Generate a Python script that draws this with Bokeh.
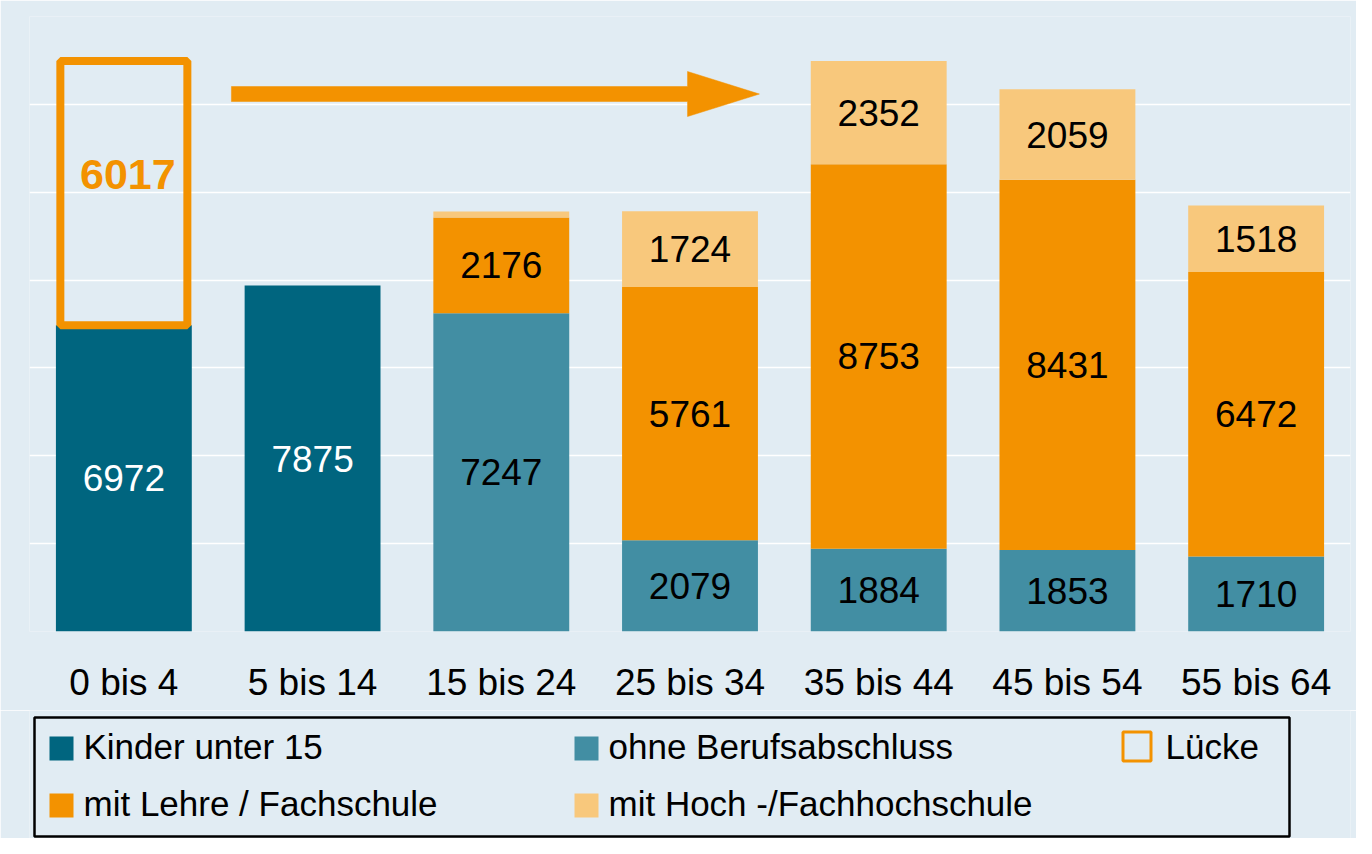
from bokeh.plotting import figure
from bokeh.models import ColumnDataSource, FactorRange, Range1d, FixedTicker
from bokeh.layouts import column
from bokeh.core.properties import value
from bokeh.embed import file_html
from bokeh.resources import INLINE

# ---------------- data ----------------
categories = ["0 bis 4", "5 bis 14", "15 bis 24", "25 bis 34", "35 bis 44", "45 bis 54", "55 bis 64"]
kinder = [6972, 7875, 0, 0, 0, 0, 0]
ohne = [0, 0, 7247, 2079, 1884, 1853, 1710]
lehre = [0, 0, 2176, 5761, 8753, 8431, 6472]
hoch = [0, 0, 140, 1724, 2352, 2059, 1518]
luecke = [6017, 0, 0, 0, 0, 0, 0]

series_names = ["Kinder unter 15", "ohne Berufsabschluss", "mit Lehre / Fachschule", "mit Hoch -/Fachhochschule"]
gap_name = "Lücke"
y_ticks = [0, 2000, 4000, 6000, 8000, 10000, 12000, 14000]

# ---------------- style ----------------
BG = "#e1ecf3"
C_KIND = "#00657f"
C_OHNE = "#428ea3"
C_LEHRE = "#f39200"
C_HOCH = "#f8c87c"
FONT = "Liberation Sans"
W = 1356

p = figure(x_range=FactorRange(*categories), y_range=Range1d(0, 14000),
           width=W, height=710, output_backend="svg", toolbar_location=None,
           y_axis_location=None,
           min_border_left=29, min_border_right=6, min_border_top=16, min_border_bottom=79)
p.background_fill_color = BG
p.border_fill_color = BG
p.outline_line_color = None
p.xgrid.grid_line_color = None
p.ygrid.ticker = FixedTicker(ticks=y_ticks)
p.ygrid.grid_line_color = "white"
p.ygrid.grid_line_width = 1.5

ax = p.xaxis[0]
ax.axis_line_color = None
ax.major_tick_line_color = None
ax.minor_tick_line_color = None
ax.major_tick_out = 0
ax.major_tick_in = 0
ax.major_label_standoff = 30
ax.major_label_text_font = FONT
ax.major_label_text_font_size = "37px"
ax.major_label_text_color = "black"

src = ColumnDataSource(dict(cat=categories, kinder=kinder, ohne=ohne, lehre=lehre, hoch=hoch))
p.vbar_stack(["kinder", "ohne", "lehre", "hoch"], x="cat", width=0.72,
             fill_color=[C_KIND, C_OHNE, C_LEHRE, C_HOCH], line_color=None, source=src)

# gap box
gx = [c for c, g in zip(categories, luecke) if g > 0]
gb = [k for k, g in zip(kinder, luecke) if g > 0]
gt = [k + g for k, g in zip(kinder, luecke) if g > 0]
p.vbar(x=gx, bottom=gb, top=gt, width=0.673, fill_color=None, line_color=C_LEHRE, line_width=8)

# value labels
lx, ly, lt, lc = [], [], [], []
for i, c in enumerate(categories):
    base = 0
    for vals, col in [(kinder, "white"), (ohne, "black"), (lehre, "black"), (hoch, "black")]:
        v = vals[i]
        if v >= 500:
            lx.append(c); ly.append(base + v / 2); lt.append(str(v)); lc.append(col)
        base += v
p.text(x=lx, y=ly, text=lt, text_color=lc, text_align="center", text_baseline="middle",
       text_font=value(FONT), text_font_size=value("37px"))

glx = [c for c, g in zip(categories, luecke) if g > 0]
gly = [k + g * 0.57 for k, g in zip(kinder, luecke) if g > 0]
glt = [str(g) for g in luecke if g > 0]
p.text(x=glx, y=gly, text=glt, x_offset=4, text_color=C_LEHRE, text_align="center",
       text_baseline="middle", text_font=value(FONT), text_font_size=value("43px"),
       text_font_style="bold")

# decorative arrow (category units / value units)
AX0, AX1, AX2 = 1.070, 3.487, 3.868
AY_S0, AY_S1 = 12065, 12406
AY_H0, AY_H1, AY_M = 11723, 12748, 12235
p.patch(x=[AX0, AX1, AX1, AX2, AX1, AX1, AX0],
        y=[AY_S1, AY_S1, AY_H1, AY_M, AY_H0, AY_S0, AY_S0],
        fill_color=C_LEHRE, line_color=C_LEHRE, line_width=0.5)

# ---------------- legend (separate panel, frame aligned with chart frame) ----------------
lg = figure(x_range=Range1d(29, 1350), y_range=Range1d(849, 721), width=W, height=128,
            output_backend="svg", toolbar_location=None,
            x_axis_location=None, y_axis_location=None,
            min_border_left=29, min_border_right=6, min_border_top=0, min_border_bottom=0)
lg.background_fill_color = BG
lg.border_fill_color = BG
lg.outline_line_color = None
lg.grid.visible = False

lg.quad(left=[34], right=[1289], top=[728], bottom=[847], fill_color=None,
        line_color="black", line_width=2.5)

sw_left = [49, 574, 49, 574]
sw_mid = [759, 759, 816, 816]
sw_col = [C_KIND, C_OHNE, C_LEHRE, C_HOCH]
lg.quad(left=sw_left, right=[l + 24 for l in sw_left], top=[m - 12 for m in sw_mid],
        bottom=[m + 12 for m in sw_mid], fill_color=sw_col, line_color=None)
lg.text(x=[l + 34 for l in sw_left], y=[m - 2 for m in sw_mid], text=series_names,
        text_color="black", text_baseline="middle", text_align="left",
        text_font=value(FONT), text_font_size=value("35px"))

lg.quad(left=[1122.5], right=[1150.5], top=[742.5], bottom=[771.5], fill_color=None,
        line_color=C_LEHRE, line_width=3)
lg.text(x=[1165], y=[757], text=[gap_name], text_color="black", text_baseline="middle",
        text_align="left", text_font=value(FONT), text_font_size=value("35px"))

layout = column(p, lg, spacing=0)
open("out.html", "w").write(file_html(layout, INLINE))
